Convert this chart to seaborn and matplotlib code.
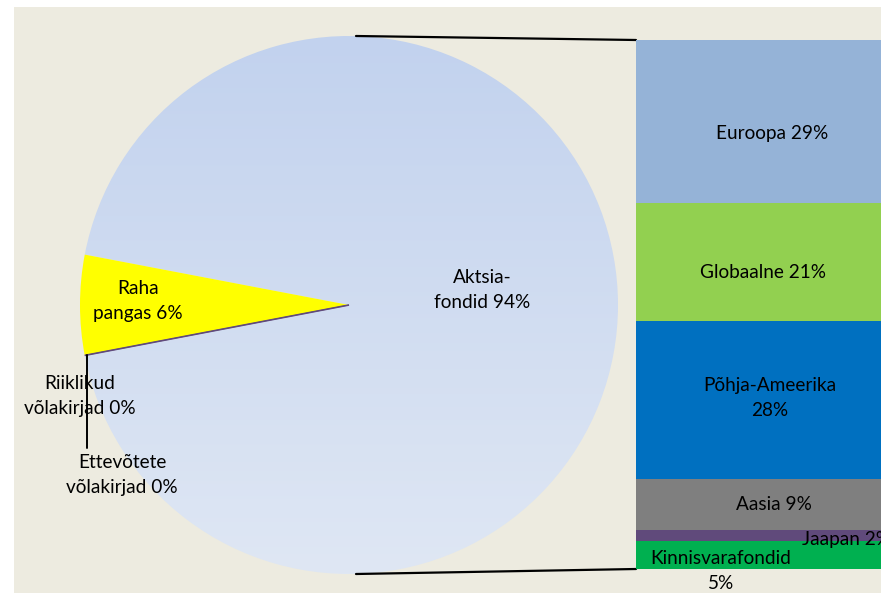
import numpy as np
import matplotlib
matplotlib.use("Agg")
import matplotlib.pyplot as plt
import seaborn as sns
from matplotlib.patches import Rectangle
from matplotlib.colors import to_rgb

# ---------------- data ----------------
pie_labels = ["Raha\npangas 6%", "Riiklikud\nvõlakirjad 0%", "Ettevõtete\nvõlakirjad 0%", "Aktsia-\nfondid 94%"]
pie_values = [6, 0, 0, 94]
pie_colors = ["#FFFF00", "#604A7B", "#4BACC6", "#C9D7EF"]

bar_labels = ["Euroopa 29%", "Globaalne 21%", "Põhja-Ameerika\n28%", "Aasia 9%", "Jaapan 2%", "Kinnisvarafondid\n5%"]
bar_values = [29, 21, 28, 9, 2, 5]
bar_colors = ["#95B3D7", "#92D050", "#0070C0", "#7F7F7F", "#604A7B", "#00B050"]

# ---------------- style ----------------
sns.set_theme(style="white")
plt.rcParams["font.family"] = ["Lato", "DejaVu Sans"]
plt.rcParams["text.color"] = "black"
FS = 13.7
LS = 1.6

W, H = 881, 593
fig = plt.figure(figsize=(W / 100, H / 100), dpi=100)
fig.patch.set_facecolor("white")

ax = fig.add_axes([0, 0, 1, 1])
def Y(py):
    return H - py

# beige chart area
ax.add_patch(Rectangle((14, 0), W - 14, H - 7, facecolor="#EDEBE0", edgecolor="none", zorder=0))

# ---------------- pie ----------------
cx, cy, R = 349, Y(305), 269
start = 180 - pie_values[0] / sum(pie_values) * 360 / 2
wedges, _ = ax.pie(pie_values, colors=pie_colors, startangle=start, counterclock=True,
                   center=(cx, cy), radius=R, frame=True,
                   wedgeprops=dict(linewidth=0, edgecolor="none"))
for w in wedges:
    w.set_zorder(2)
wedges[1].set_edgecolor("#604A7B"); wedges[1].set_linewidth(1.2)
wedges[2].set_edgecolor("#604A7B"); wedges[2].set_linewidth(0.6)

# gradient fill of the large slice
akt = wedges[3]
akt.set_facecolor("none")
top_c = np.array(to_rgb("#C2D2EE")); bot_c = np.array(to_rgb("#DFE7F4"))
t = np.linspace(0, 1, 256)[:, None]
grad = (bot_c[None, :] * (1 - t) + top_c[None, :] * t)[:, None, :]
im = ax.imshow(grad, extent=(cx - R, cx + R, cy - R, cy + R), origin="lower",
               aspect="auto", zorder=1.5, interpolation="bilinear")
im.set_clip_path(akt)

ax.set_xlim(0, W)
ax.set_ylim(0, H)
ax.set_aspect("auto")
ax.axis("off")

# pie labels
ax.text(482, Y(290), pie_labels[3], ha="center", va="center", fontsize=FS, linespacing=LS, zorder=5)
ax.text(138, Y(301), pie_labels[0], ha="center", va="center", fontsize=FS, linespacing=LS, zorder=5)
ax.text(80, Y(396), pie_labels[1], ha="center", va="center", fontsize=FS, linespacing=LS, zorder=5)
ax.text(122, Y(475), pie_labels[2], ha="center", va="center", fontsize=FS, linespacing=LS, zorder=5)

# leader line for the 0% slices
edge_ang = np.deg2rad(start + pie_values[0] / sum(pie_values) * 360)
ex, ey = cx + R * np.cos(edge_ang), cy + R * np.sin(edge_ang)
ax.plot([ex + 2, ex + 2], [ey, Y(448)], color="black", lw=1.4, zorder=6)

# ---------------- stacked bar ----------------
bx0, bx1 = 636, 908
by_top, by_bot = 40, 569
bax = fig.add_axes([bx0 / W, (H - by_bot) / H, (bx1 - bx0) / W, (by_bot - by_top) / H])
cum = np.cumsum(bar_values[::-1])[::-1]  # top of each segment, from top segment down
for top, col in zip(cum, bar_colors):
    sns.barplot(x=["s"], y=[top], color=col, width=1, saturation=1, ax=bax,
                linewidth=0, edgecolor="none")
bax.set_xlim(-0.5, 0.5)
bax.set_ylim(0, sum(bar_values))
bax.axis("off")

# connector lines
ax.plot([cx + 7, bx0], [cy + R, Y(by_top)], color="black", lw=1.6, zorder=6)
ax.plot([cx + 7, bx0], [cy - R, Y(by_bot)], color="black", lw=1.6, zorder=6)

# bar labels (in pixel coordinates of the main axes, drawn on the bar axes)
bar_text_pos = [(772, 133, "center"), (763, 272, "center"), (770, 398, "center"),
                (774, 505, "center"), (802, 540, "left"), (721, 571, "center")]
for lab, (px, py, ha) in zip(bar_labels, bar_text_pos):
    bax.text(px, Y(py), lab, transform=ax.transData, ha=ha, va="center",
             fontsize=FS, linespacing=LS, clip_on=False, zorder=5)

fig.savefig("out.png", dpi=100, facecolor=fig.get_facecolor())
